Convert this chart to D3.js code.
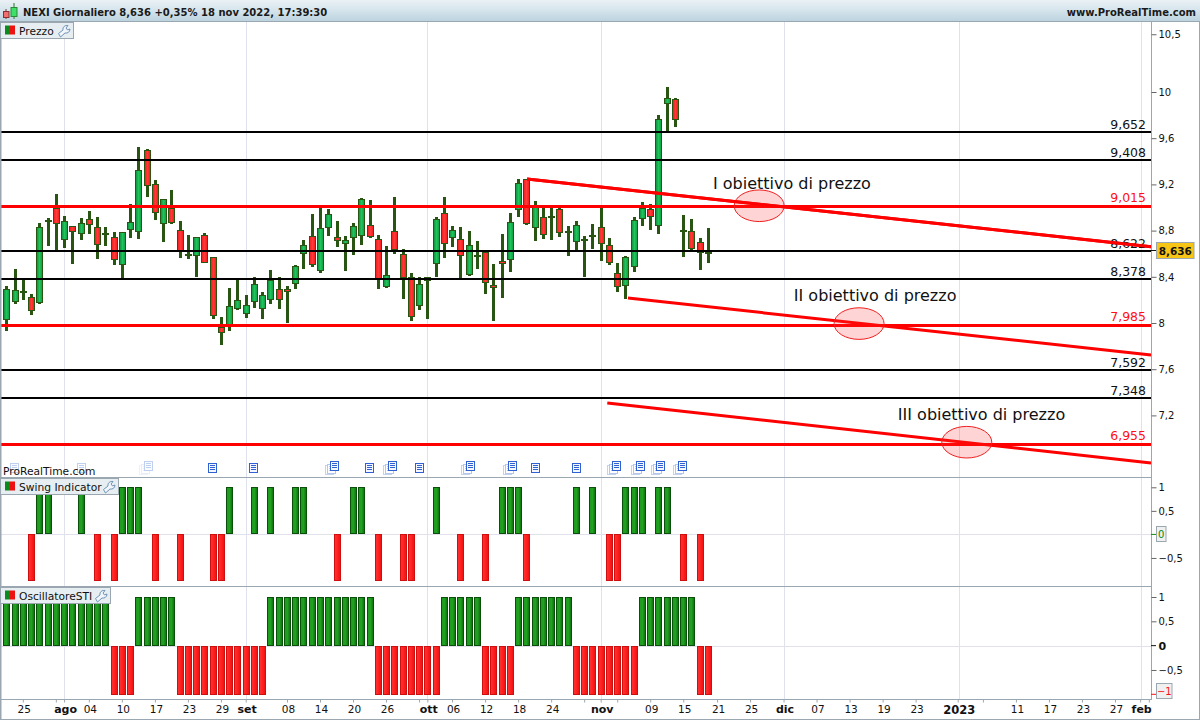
<!DOCTYPE html>
<html><head><meta charset="utf-8">
<script src="https://cdnjs.cloudflare.com/ajax/libs/d3/7.8.5/d3.min.js"></script>
<style>html,body{margin:0;padding:0;background:#fff}svg{display:block}text{font-family:"DejaVu Sans",sans-serif}</style>
</head><body><svg id="c" width="1200" height="720"></svg>
<script>
const opens=[8.02,8.176,8.254,8.222,8.167,8.877,8.993,8.713,8.837,8.765,8.898,8.828,8.776,8.742,8.499,8.799,8.782,9.495,9.201,8.851,8.993,8.802,8.574,8.574,8.759,8.569,7.968,7.963,8.116,8.072,8.176,8.116,8.194,8.292,8.292,8.332,8.592,8.751,8.445,8.817,8.742,8.679,8.731,8.748,8.852,8.731,8.306,8.794,8.595,8.401,8.142,8.396,8.505,8.95,8.736,8.724,8.41,8.574,8.618,8.332,8.534,8.54,8.976,9.244,8.82,8.915,8.906,8.984,8.782,8.699,8.716,8.75,8.828,8.673,8.43,8.315,8.479,8.898,8.984,8.834,9.893,9.937,8.785,8.794,8.699,8.595];
const highs=[8.32,8.465,8.378,8.251,8.863,8.909,9.117,8.926,8.837,8.909,8.97,8.918,8.831,8.788,8.785,9.03,9.524,9.506,9.238,9.071,9.152,8.883,8.762,8.742,8.779,8.569,8.052,8.303,8.372,8.243,8.399,8.269,8.459,8.399,8.321,8.503,8.719,8.944,9.002,8.987,8.883,8.754,8.866,9.083,9.065,8.762,8.667,9.091,8.641,8.433,8.399,8.399,8.918,9.091,8.84,8.831,8.797,8.71,8.618,8.511,8.771,8.95,9.247,9.247,9.056,9.002,8.993,9.004,8.84,8.883,8.753,8.857,8.999,8.736,8.52,8.58,8.918,9.048,9.03,9.801,10.043,9.948,8.935,8.901,8.736,8.823];
const lows=[7.934,8.165,8.199,8.069,8.167,8.667,8.626,8.649,8.511,8.719,8.771,8.554,8.667,8.502,8.387,8.736,8.727,9.091,8.892,8.701,8.86,8.563,8.554,8.398,8.517,8.035,7.81,7.931,8.113,8.044,8.13,8.035,8.165,8.122,8,8.295,8.468,8.485,8.433,8.754,8.658,8.451,8.589,8.676,8.739,8.295,8.306,8.598,8.208,8.018,8.113,8.035,8.399,8.563,8.658,8.387,8.41,8.471,8.251,8.017,8.219,8.442,8.918,8.851,8.71,8.727,8.719,8.745,8.58,8.629,8.398,8.641,8.537,8.502,8.269,8.208,8.442,8.84,8.805,8.771,9.657,9.7,8.572,8.632,8.459,8.52];
const closes=[8.291,8.283,8.274,8.098,8.828,8.892,8.854,8.88,8.785,8.863,8.843,8.67,8.756,8.543,8.785,8.872,9.322,9.183,8.949,9.071,8.86,8.621,8.595,8.742,8.517,8.058,7.919,8.144,8.197,8.153,8.335,8.24,8.37,8.194,8.266,8.491,8.673,8.497,8.82,8.941,8.705,8.716,8.837,9.071,8.748,8.384,8.413,8.632,8.384,8.055,8.335,8.361,8.898,8.681,8.803,8.58,8.673,8.586,8.352,8.309,8.508,8.872,9.209,8.851,9.004,8.759,8.924,8.774,8.797,8.846,8.727,8.765,8.681,8.514,8.309,8.569,8.889,8.993,8.912,9.763,9.945,9.752,8.802,8.635,8.603,8.615];
const swing=[0,0,0,-1,1,1,0,0,0,1,0,-1,0,-1,1,1,1,0,-1,0,0,-1,0,0,0,-1,-1,1,0,0,1,0,1,0,0,1,1,0,0,0,-1,0,1,1,0,-1,0,0,-1,-1,0,0,1,0,0,-1,0,0,-1,0,1,1,1,-1,0,0,0,0,0,1,0,1,0,-1,-1,1,1,1,0,1,1,0,-1,0,-1,0];
const sti=[1,1,1,1,1,1,1,1,1,1,1,1,1,-1,-1,-1,1,1,1,1,1,-1,-1,-1,-1,-1,-1,-1,-1,-1,-1,-1,1,1,1,1,1,1,1,1,1,1,1,1,1,-1,-1,-1,-1,-1,-1,-1,-1,1,1,1,1,1,-1,-1,-1,-1,1,1,1,1,1,1,1,-1,-1,-1,-1,-1,-1,-1,-1,1,1,1,1,1,1,1,-1,-1];
const blackLevels=[9.652,9.408,8.622,8.378,7.592,7.348];
const redLevels=[9.015,7.985,6.955];
const trendStartIdx=[63.08,75.3,72.8], trendStartPrice=[9.247,8.216,7.307];
const trendEndIdx=[138.67,138.67,138.67], trendEndPrice=[8.66,7.723,6.788];
const targetIdx=[91.2,103.3,116.35], targetPrice=[9.015,7.995,6.968];
const targetLabels=["I obiettivo di prezzo","II obiettivo di prezzo","III obiettivo di prezzo"];
const targetLabelIdx=[85.6,95.4,108.0], targetLabelPrice=[9.162,8.187,7.157];
const priceTicks=[10.5,10,9.6,9.2,8.8,8.4,8,7.6,7.2];
const priceTickText=["10,5","10","9,6","9,2","8,8","8,4","8","7,6","7,2"];
const oscTicks=[1,0.5,-0.5], oscTickText=["1","0,5","−0,5"];
const xTickIdx=[2,6,7,10,14,18,22,26,29,34,38,42,46,50,51,54,58,62,66,70,72,74,78,82,86.1,90.1,94.15,98.15,102.15,106.15,110.15,115.25,118.3,122.3,126.3,130.3,134.3,137.35,138.4];
const xTickText=["25","","ago","04","10","17","23","29","set","08","14","20","26","","ott","06","12","18","24","","nov","","09","15","21","25","dic","07","13","19","23","2023","","11","17","23","27","feb",""];
const monthIdx=[7,29,51,72,94.25,115.35,137.4];
const docIdx=[1,9.2,17.2,25,30,39.7,44.1,46.7,50.1,56.2,61.3,64.2,69.1,73.8,76.8,79.2,81.8];
const docStack=[0,0,1,0,0,1,0,1,0,1,1,0,0,1,1,1,1];
const docFaint=[1,1,1,0,0,0,0,0,0,0,0,0,0,0,0,0,0];

const svg=d3.select("#c");
const R=1151, font='"DejaVu Sans",sans-serif', BORDER="#9aa7b0";
const x=d3.scaleLinear().domain([0,85]).range([6.3,708]);
const y=d3.scaleLinear().domain([7.2,10]).range([415.4,92]);
const ySw=d3.scaleLinear().domain([-1,1]).range([581.5,487.3]);
const yOs=d3.scaleLinear().domain([-1,1]).range([694.3,597]);
const defs=svg.append("defs");
function grad(id,stops,horiz){const g=defs.append("linearGradient").attr("id",id).attr("x1",0).attr("y1",0).attr("x2",horiz?1:0).attr("y2",horiz?0:1);
 stops.forEach((s,i)=>g.append("stop").attr("offset",i/(stops.length-1)).attr("stop-color",s));}
grad("title",["#eaf1f5","#d5e4ec","#bcd3df"]);
grad("cg",["#118a3c","#1fc45c","#0f9a42"],1);
grad("cr",["#f01c1c","#ff3a3a","#f51818"],1);
grad("bg",["#1a9a1a","#22a022","#0c6c0c"],1);
grad("br",["#ff3434","#ff2020","#ee1010"],1);
svg.append("rect").attr("width",1200).attr("height",720).attr("fill","#fff");
// month grid
svg.append("g").selectAll("line").data(monthIdx).join("line")
 .attr("x1",d=>Math.round(x(d))+.5).attr("x2",d=>Math.round(x(d))+.5).attr("y1",22).attr("y2",699).attr("stroke","#dfe1ec").attr("stroke-width",1);
// zero lines
[ySw(0),yOs(0)].forEach(v=>svg.append("line").attr("x1",1).attr("x2",R).attr("y1",Math.round(v)+.5).attr("y2",Math.round(v)+.5).attr("stroke","#e0e1ea"));
// candles
const idx=d3.range(opens.length);
const cg=svg.append("g").attr("shape-rendering","crispEdges");
cg.selectAll("rect.w").data(idx).join("rect").attr("class","w")
 .attr("x",i=>Math.round(x(i))-1).attr("width",3)
 .attr("y",i=>y(highs[i])).attr("height",i=>Math.max(1,y(lows[i])-y(highs[i]))).attr("fill","#285612");
cg.selectAll("rect.b").data(idx).join("rect").attr("class","b")
 .attr("x",i=>Math.round(x(i))-2.5).attr("width",6)
 .attr("y",i=>Math.round(y(Math.max(opens[i],closes[i])))+.5)
 .attr("height",i=>Math.max(1,Math.round(y(Math.min(opens[i],closes[i]))-y(Math.max(opens[i],closes[i])))-1))
 .attr("fill",i=>closes[i]>=opens[i]?"url(#cg)":"url(#cr)").attr("stroke","#285612").attr("stroke-width",1);
// levels
const lv=svg.append("g");
lv.selectAll("line.k").data(blackLevels).join("line").attr("class","k").attr("x1",1).attr("x2",R).attr("y1",d=>Math.round(y(d))).attr("y2",d=>Math.round(y(d))).attr("stroke","#000").attr("stroke-width",2);
lv.selectAll("line.r").data(redLevels).join("line").attr("class","r").attr("x1",1).attr("x2",R).attr("y1",d=>Math.round(y(d))+.5).attr("y2",d=>Math.round(y(d))+.5).attr("stroke","#ff0000").attr("stroke-width",3);
// trend lines 2,3 (first drawn after labels)
lv.selectAll("line.t").data(trendStartIdx).join("line").attr("class","t")
 .attr("x1",(d,i)=>x(d)).attr("y1",(d,i)=>y(trendStartPrice[i])).attr("x2",(d,i)=>x(trendEndIdx[i])).attr("y2",(d,i)=>y(trendEndPrice[i]))
 .attr("stroke","#ff0000").attr("stroke-width",3);
// targets
lv.selectAll("ellipse").data(targetIdx).join("ellipse").attr("cx",d=>x(d)).attr("cy",(d,i)=>y(targetPrice[i])).attr("rx",25).attr("ry",15.8)
 .attr("fill","rgba(255,40,40,0.2)").attr("stroke","#f02020").attr("stroke-width",1);
lv.selectAll("text.tg").data(targetLabels).join("text").attr("class","tg").text(d=>d)
 .attr("x",(d,i)=>x(targetLabelIdx[i])).attr("y",(d,i)=>y(targetLabelPrice[i])).attr("font-size",16).attr("fill","#111");
// level labels
const fmt=d=>d3.format(".3f")(d).replace(".",",");
lv.selectAll("text.lk").data(blackLevels).join("text").attr("class","lk").text(fmt).attr("x",1146).attr("y",d=>y(d)-3.5).attr("text-anchor","end").attr("font-size",12.5).attr("fill","#111");
lv.selectAll("text.lr").data(redLevels).join("text").attr("class","lr").text(fmt).attr("x",1146).attr("y",d=>y(d)-3.5).attr("text-anchor","end").attr("font-size",12.5).attr("fill","#ff1010");
svg.append("line").attr("x1",x(trendStartIdx[0])).attr("y1",y(trendStartPrice[0])).attr("x2",x(trendEndIdx[0])).attr("y2",y(trendEndPrice[0])).attr("stroke","#ff0000").attr("stroke-width",3);
// indicator bars
function bars(vals,scale){
 const g=svg.append("g").attr("shape-rendering","crispEdges");
 const act=idx.filter(i=>vals[i]!==0);
 g.selectAll("rect").data(act).join("rect")
  .attr("x",i=>Math.round(x(i))-2.5).attr("width",6)
  .attr("y",i=>Math.round(vals[i]>0?scale(1):scale(0))+.5)
  .attr("height",i=>Math.round(Math.abs(scale(vals[i])-scale(0)))-1)
  .attr("fill",i=>vals[i]>0?"url(#bg)":"url(#br)")
  .attr("stroke",i=>vals[i]>0?"#0a4f0a":"#cc1010").attr("stroke-width",1);
}
bars(swing,ySw); bars(sti,yOs);
// document icons
const dg=svg.append("g");
docIdx.forEach((d,k)=>{
 const cx=Math.round(x(d)), top=462, g=dg.append("g").attr("opacity",docFaint[k]?0.3:1);
 const page=(ox,oy,c)=>{
  g.append("rect").attr("x",cx-4.5+ox).attr("y",top+oy+.5).attr("width",8).attr("height",9).attr("fill",c==="#2f62d0"?"#f4f7ff":"#fff").attr("stroke",c).attr("stroke-width",1.3).attr("shape-rendering","crispEdges");
  [2,4,6].forEach(l=>g.append("line").attr("x1",cx-3+ox).attr("x2",cx+2+ox).attr("y1",top+oy+l+.5).attr("y2",top+oy+l+.5).attr("stroke",c).attr("stroke-width",1).attr("shape-rendering","crispEdges"));
 };
 if(docStack[k]){page(-4,3,"#c4d2ee");page(-2,2,"#b4c6ea");page(1,-1,"#2f62d0");}else page(0,1,"#2f62d0");
});
svg.append("text").text("ProRealTime.com").attr("x",3).attr("y",475).attr("font-size",10.7).attr("fill","#111");
// frames
const sep=[477.5,586.5,699.5];
svg.selectAll("line.sep").data(sep).join("line").attr("class","sep").attr("x1",0).attr("x2",R).attr("y1",d=>d).attr("y2",d=>d).attr("stroke",BORDER);
svg.append("line").attr("x1",R+.5).attr("x2",R+.5).attr("y1",21).attr("y2",700).attr("stroke",BORDER);
svg.append("rect").attr("x",0).attr("y",21).attr("width",1.5).attr("height",699).attr("fill",BORDER);
svg.append("rect").attr("x",1199).attr("y",0).attr("width",1).attr("height",720).attr("fill",BORDER);
svg.append("rect").attr("x",0).attr("y",719).attr("width",1200).attr("height",1).attr("fill",BORDER);
// title bar
svg.append("rect").attr("x",0).attr("y",0).attr("width",1200).attr("height",21).attr("fill","url(#title)");
svg.append("line").attr("x1",0).attr("x2",1200).attr("y1",21.5).attr("y2",21.5).attr("stroke",BORDER);
svg.append("line").attr("x1",6).attr("x2",6).attr("y1",9).attr("y2",19).attr("stroke","#7a3a3a");
svg.append("rect").attr("x",3.5).attr("y",11.5).attr("width",5.5).attr("height",6).attr("fill","#f07070").attr("stroke","#8a3030");
svg.append("line").attr("x1",14).attr("x2",14).attr("y1",3).attr("y2",19).attr("stroke","#2a7a2a");
svg.append("rect").attr("x",11).attr("y",7.5).attr("width",6).attr("height",9).attr("fill","#3ee06a").attr("stroke","#2a8a3a");
svg.append("text").text("NEXI Giornaliero 8,636 +0,35% 18 nov 2022, 17:39:30").attr("x",23).attr("y",16).attr("font-size",10).attr("font-weight","bold").attr("fill","#1a1a1a");
svg.append("text").text("www.ProRealTime.com").attr("x",1196).attr("y",16).attr("text-anchor","end").attr("font-size",10).attr("font-weight","bold").attr("fill","#1a1a1a");
// legend tabs
function tab(y0,w,h,label){
 const g=svg.append("g");
 g.append("rect").attr("x",.5).attr("y",y0+.5).attr("width",w).attr("height",h).attr("fill","#e6eef2").attr("stroke",BORDER);
 g.append("rect").attr("x",5).attr("y",y0+3.5).attr("width",5).attr("height",9).attr("fill","#0b8a1e");
 g.append("rect").attr("x",10).attr("y",y0+3.5).attr("width",5).attr("height",9).attr("fill","#ee1111");
 g.append("text").text(label).attr("x",19).attr("y",y0+12.5).attr("font-size",10.7).attr("fill","#111");
 const wx=w-15,wy=y0+3;
 g.append("path").attr("transform",`translate(${wx},${wy})`)
  .attr("d","M0.5,8.5 L5,5 C4.5,2 7,0 10,0.5 L8,3 L9.5,5 L12,4 C12,7 9.5,8.5 7,8 L2.5,12 Z")
  .attr("fill","#f2f6fa").attr("stroke","#6f93b8").attr("stroke-width",1);
}
tab(22,73,16,"Prezzo"); tab(478,118,16,"Swing Indicator"); tab(587,110,16,"OscillatoreSTI");
// right axes via d3
function rightAxis(scale,vals,txt,fs){
 const g=svg.append("g").attr("transform",`translate(${R+.5},0)`)
  .call(d3.axisRight(scale).tickValues(vals).tickSize(5).tickPadding(2).tickFormat((d,i)=>txt[i]));
 g.select(".domain").remove();
 g.selectAll("line").attr("stroke","#666");
 g.selectAll("text").attr("font-family",font).attr("font-size",fs).attr("fill","#111");
 return g;
}
rightAxis(y,priceTicks,priceTickText,10);
rightAxis(ySw,oscTicks,oscTickText,10);
rightAxis(yOs,oscTicks,oscTickText,10);
svg.append("line").attr("x1",R).attr("x2",R+5).attr("y1",yOs(0)).attr("y2",yOs(0)).attr("stroke","#111");
svg.append("text").text("0").attr("x",R+7.5).attr("y",yOs(0)+4).attr("font-size",11).attr("font-weight","bold").attr("fill","#111");
// last price
svg.append("line").attr("x1",R).attr("x2",R+6).attr("y1",250.5).attr("y2",250.5).attr("stroke","#111");
svg.append("rect").attr("x",1156.5).attr("y",242.5).attr("width",37.5).attr("height",16).attr("fill","#f6c516").attr("stroke",BORDER);
svg.append("text").text("8,636").attr("x",1175.3).attr("y",255).attr("text-anchor","middle").attr("font-size",10.5).attr("font-weight","bold").attr("fill","#111");
// swing 0 and sti -1 boxes
svg.append("line").attr("x1",R).attr("x2",R+5).attr("y1",ySw(0)).attr("y2",ySw(0)).attr("stroke","#0a8a0a");
svg.append("rect").attr("x",1156.5).attr("y",526.5).attr("width",9.5).attr("height",15).attr("fill","#f0f0f0").attr("stroke",BORDER);
svg.append("text").text("0").attr("x",1161.3).attr("y",538).attr("text-anchor","middle").attr("font-size",10).attr("fill","#0a8a0a");
svg.append("line").attr("x1",R).attr("x2",R+5).attr("y1",yOs(-1)).attr("y2",yOs(-1)).attr("stroke","#ff1010");
svg.append("rect").attr("x",1156.5).attr("y",683.5).attr("width",15.5).attr("height",15).attr("fill","#f0f0f0").attr("stroke",BORDER);
svg.append("text").text("−1").attr("x",1164.3).attr("y",695).attr("text-anchor","middle").attr("font-size",10).attr("fill","#ff1010");
// x axis
const xa=svg.append("g").attr("transform","translate(0,699.5)").call(d3.axisBottom(x).tickValues(xTickIdx).tickSize(3).tickPadding(3).tickFormat((d,i)=>xTickText[i]));
xa.select(".domain").remove();
xa.selectAll("line").attr("stroke",BORDER);
xa.selectAll("text").attr("font-family",font).attr("fill","#111").attr("dx",1)
 .attr("font-weight",(d,i)=>/[a-z]|2023/.test(xTickText[i])?"bold":"normal")
 .attr("font-size",(d,i)=>xTickText[i]==="2023"?11.5:(/[a-z]/.test(xTickText[i])?11:10.5));
</script></body></html>
